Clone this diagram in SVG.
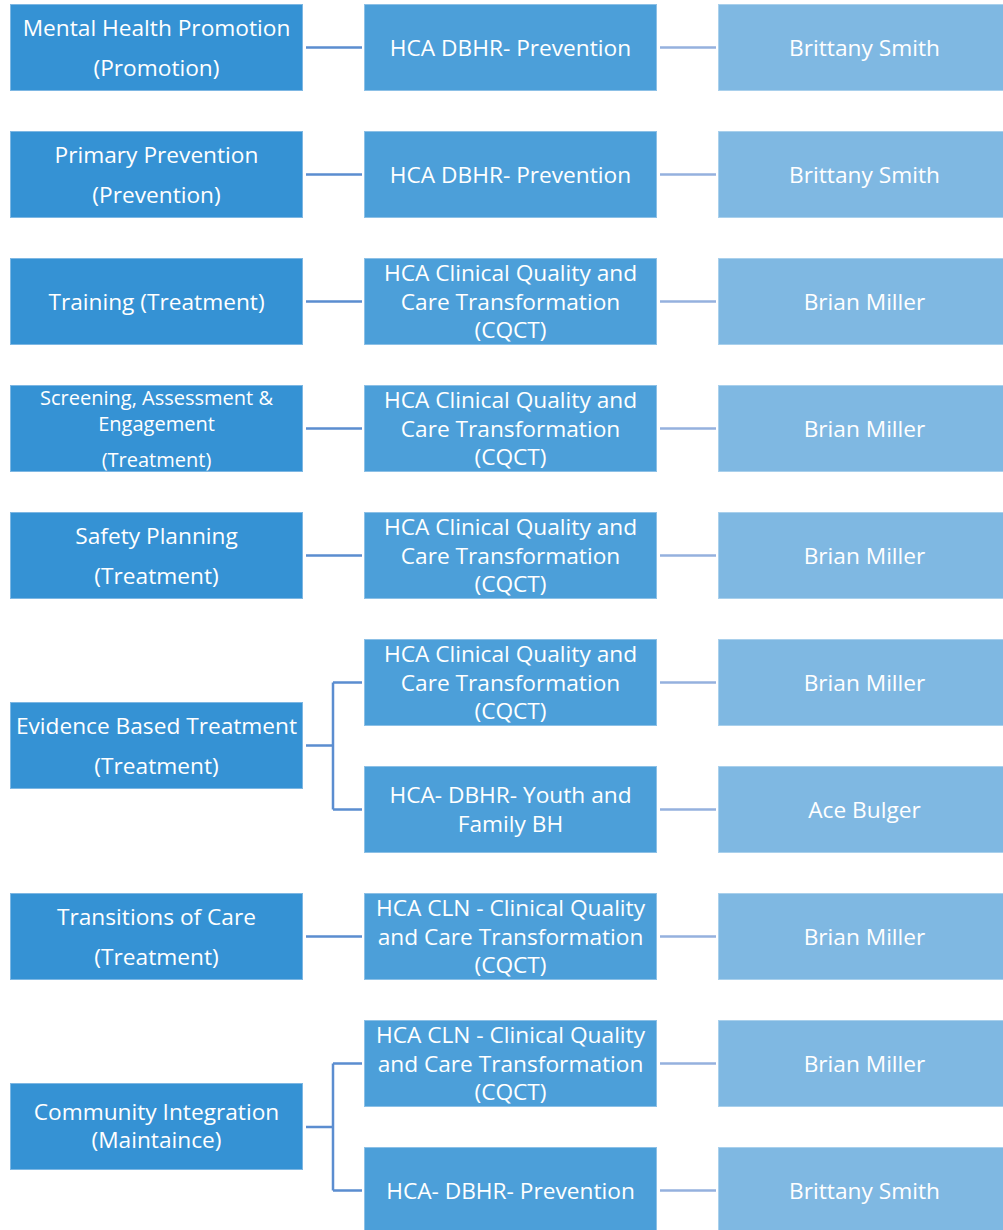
<svg xmlns="http://www.w3.org/2000/svg" width="1003" height="1230" viewBox="0 0 1003 1230">
<style>
.c1{fill:#3592d4;stroke:#7db7e3;stroke-width:1}
.c2{fill:#4c9fd9;stroke:#8cc0e6;stroke-width:1}
.c3{fill:#7fb8e2;stroke:#a9d0ec;stroke-width:1}
text{font-family:"Open Sans","Noto Sans","DejaVu Sans",sans-serif;font-size:22.7px;fill:#ffffff;text-anchor:middle}
.s{font-size:20px}
.l1{fill:none;stroke:#5b8dd0;stroke-width:2.5}
.l2{fill:none;stroke:#95b1de;stroke-width:2.5}
</style>
<rect width="1003" height="1230" fill="#ffffff"/>
<g id="connectors">
<path class="l1" d="M306 47.5H362M306 174.5H362M306 301.5H362M306 428.5H362M306 555.5H362M306 745.5H333M333 682.5V809.5M333 682.5H362M333 809.5H362M306 936.5H362M306 1127H333M333 1063.5V1190.5M333 1063.5H362M333 1190.5H362"/>
<path class="l2" d="M660 47.5H716M660 174.5H716M660 301.5H716M660 428.5H716M660 555.5H716M660 682.5H716M660 809.5H716M660 936.5H716M660 1063.5H716M660 1190.5H716"/>
</g>
<g id="n1"><rect class="c1" x="10.5" y="4.5" width="292" height="86"/><text x="156.5" y="36">Mental Health Promotion</text><text x="156.5" y="76">(Promotion)</text></g>
<g id="n2"><rect class="c1" x="10.5" y="131.5" width="292" height="86"/><text x="156.5" y="163">Primary Prevention</text><text x="156.5" y="203">(Prevention)</text></g>
<g id="n3"><rect class="c1" x="10.5" y="258.5" width="292" height="86"/><text x="156.5" y="309.5">Training (Treatment)</text></g>
<g id="n4"><rect class="c1" x="10.5" y="385.5" width="292" height="86"/><text class="s" x="156.5" y="405">Screening, Assessment &amp;</text><text class="s" x="156.5" y="431">Engagement</text><text class="s" x="156.5" y="467">(Treatment)</text></g>
<g id="n5"><rect class="c1" x="10.5" y="512.5" width="292" height="86"/><text x="156.5" y="544">Safety Planning</text><text x="156.5" y="584">(Treatment)</text></g>
<g id="n6"><rect class="c1" x="10.5" y="702.5" width="292" height="86"/><text x="156.5" y="734">Evidence Based Treatment</text><text x="156.5" y="774">(Treatment)</text></g>
<g id="n7"><rect class="c1" x="10.5" y="893.5" width="292" height="86"/><text x="156.5" y="925">Transitions of Care</text><text x="156.5" y="965">(Treatment)</text></g>
<g id="n8"><rect class="c1" x="10.5" y="1083.5" width="292" height="86"/><text x="156.5" y="1120">Community Integration</text><text x="156.5" y="1148">(Maintaince)</text></g>

<g id="m1"><rect class="c2" x="364.5" y="4.5" width="292" height="86"/><text x="510.5" y="55.5">HCA DBHR- Prevention</text></g>
<g id="m2"><rect class="c2" x="364.5" y="131.5" width="292" height="86"/><text x="510.5" y="182.5">HCA DBHR- Prevention</text></g>
<g id="m3"><rect class="c2" x="364.5" y="258.5" width="292" height="86"/><text x="510.5" y="281">HCA Clinical Quality and</text><text x="510.5" y="309.5">Care Transformation</text><text x="510.5" y="338">(CQCT)</text></g>
<g id="m4"><rect class="c2" x="364.5" y="385.5" width="292" height="86"/><text x="510.5" y="408">HCA Clinical Quality and</text><text x="510.5" y="436.5">Care Transformation</text><text x="510.5" y="465">(CQCT)</text></g>
<g id="m5"><rect class="c2" x="364.5" y="512.5" width="292" height="86"/><text x="510.5" y="535">HCA Clinical Quality and</text><text x="510.5" y="563.5">Care Transformation</text><text x="510.5" y="592">(CQCT)</text></g>
<g id="m6"><rect class="c2" x="364.5" y="639.5" width="292" height="86"/><text x="510.5" y="662">HCA Clinical Quality and</text><text x="510.5" y="690.5">Care Transformation</text><text x="510.5" y="719">(CQCT)</text></g>
<g id="m7"><rect class="c2" x="364.5" y="766.5" width="292" height="86"/><text x="510.5" y="803">HCA- DBHR- Youth and</text><text x="510.5" y="832">Family BH</text></g>
<g id="m8"><rect class="c2" x="364.5" y="893.5" width="292" height="86"/><text x="510.5" y="916">HCA CLN - Clinical Quality</text><text x="510.5" y="944.5">and Care Transformation</text><text x="510.5" y="973">(CQCT)</text></g>
<g id="m9"><rect class="c2" x="364.5" y="1020.5" width="292" height="86"/><text x="510.5" y="1043">HCA CLN - Clinical Quality</text><text x="510.5" y="1071.5">and Care Transformation</text><text x="510.5" y="1100">(CQCT)</text></g>
<g id="m10"><rect class="c2" x="364.5" y="1147.5" width="292" height="86"/><text x="510.5" y="1198.5">HCA- DBHR- Prevention</text></g>

<g id="p1"><rect class="c3" x="718.5" y="4.5" width="290" height="86"/><text x="864.5" y="55.5">Brittany Smith</text></g>
<g id="p2"><rect class="c3" x="718.5" y="131.5" width="290" height="86"/><text x="864.5" y="182.5">Brittany Smith</text></g>
<g id="p3"><rect class="c3" x="718.5" y="258.5" width="290" height="86"/><text x="864.5" y="309.5">Brian Miller</text></g>
<g id="p4"><rect class="c3" x="718.5" y="385.5" width="290" height="86"/><text x="864.5" y="436.5">Brian Miller</text></g>
<g id="p5"><rect class="c3" x="718.5" y="512.5" width="290" height="86"/><text x="864.5" y="563.5">Brian Miller</text></g>
<g id="p6"><rect class="c3" x="718.5" y="639.5" width="290" height="86"/><text x="864.5" y="690.5">Brian Miller</text></g>
<g id="p7"><rect class="c3" x="718.5" y="766.5" width="290" height="86"/><text x="864.5" y="817.5">Ace Bulger</text></g>
<g id="p8"><rect class="c3" x="718.5" y="893.5" width="290" height="86"/><text x="864.5" y="944.5">Brian Miller</text></g>
<g id="p9"><rect class="c3" x="718.5" y="1020.5" width="290" height="86"/><text x="864.5" y="1071.5">Brian Miller</text></g>
<g id="p10"><rect class="c3" x="718.5" y="1147.5" width="290" height="86"/><text x="864.5" y="1198.5">Brittany Smith</text></g>
</svg>
